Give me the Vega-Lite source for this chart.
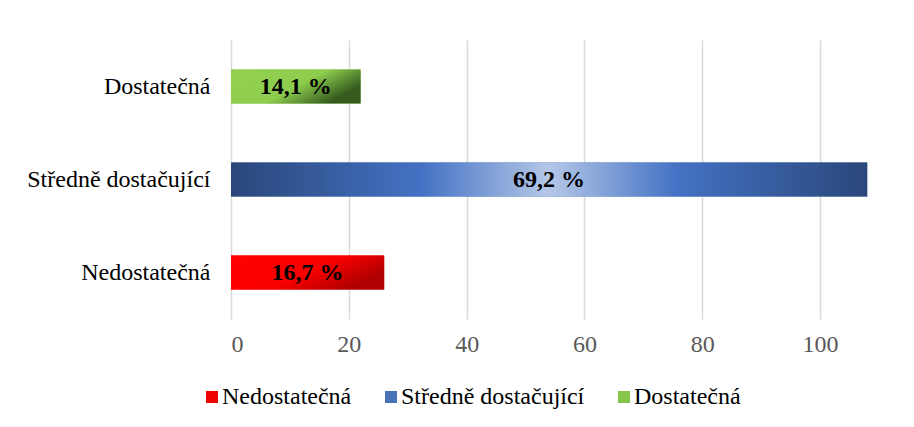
{
  "$schema": "https://vega.github.io/schema/vega-lite/v6.json",
  "width": 648,
  "height": 279,
  "autosize": {"type": "none"},
  "padding": {"left": 231, "top": 40, "right": 35, "bottom": 108},
  "background": "white",
  "config": {
    "font": "Liberation Serif",
    "view": {"stroke": null}
  },
  "data": {
    "values": [
      {"category": "Dostatečná", "value": 22, "label": "14,1 %"},
      {"category": "Středně dostačující", "value": 108, "label": "69,2 %"},
      {"category": "Nedostatečná", "value": 26, "label": "16,7 %"}
    ]
  },
  "encoding": {
    "y": {
      "field": "category",
      "type": "nominal",
      "sort": ["Dostatečná", "Středně dostačující", "Nedostatečná"],
      "scale": {"paddingInner": 0.634, "paddingOuter": 0.317},
      "axis": {
        "title": null,
        "domain": false,
        "ticks": false,
        "labelFont": "Liberation Serif",
        "labelFontSize": 24,
        "labelColor": "#000000",
        "labelPadding": 21,
        "labelLimit": 0
      }
    },
    "x": {
      "field": "value",
      "type": "quantitative",
      "scale": {"domain": [0, 110], "nice": false},
      "axis": {
        "title": null,
        "values": [0, 20, 40, 60, 80, 100],
        "domain": false,
        "ticks": false,
        "grid": true,
        "gridColor": "#d9d9d9",
        "gridWidth": 1.5,
        "labelFont": "Liberation Serif",
        "labelFontSize": 24,
        "labelColor": "#595959",
        "labelPadding": 13
      }
    }
  },
  "layer": [
    {
      "mark": {"type": "bar"},
      "encoding": {
        "color": {
          "field": "category",
          "type": "nominal",
          "scale": {
            "domain": ["Nedostatečná", "Středně dostačující", "Dostatečná"],
            "range": ["#f00000", "#4a72b8", "#86c44a"]
          },
          "legend": {
            "title": null,
            "orient": "none",
            "direction": "horizontal",
            "legendX": -31,
            "legendY": 345,
            "symbolType": "square",
            "symbolSize": 144,
            "symbolStrokeWidth": 0,
            "symbolOpacity": 1,
            "labelFont": "Liberation Serif",
            "labelFontSize": 24,
            "labelColor": "#000000",
            "labelOffset": -2,
            "labelLimit": 0,
            "columnPadding": 27
          }
        }
      }
    },
    {
      "transform": [{"filter": "datum.category === 'Nedostatečná'"}],
      "mark": {"type": "bar", "color": {"gradient": "linear", "x1": 0, "y1": 0, "x2": 1, "y2": 0.5,
        "stops": [{"offset": 0, "color": "#ff0000"}, {"offset": 0.6, "color": "#f80000"}, {"offset": 1, "color": "#b00000"}]}},
      "encoding": {}
    },
    {
      "transform": [{"filter": "datum.category === 'Středně dostačující'"}],
      "mark": {"type": "bar", "color": {"gradient": "linear", "x1": 0, "y1": 0, "x2": 1, "y2": 0,
        "stops": [{"offset": 0, "color": "#2a477a"}, {"offset": 0.3, "color": "#4472c4"}, {"offset": 0.5, "color": "#b4c7e7"}, {"offset": 0.7, "color": "#4472c4"}, {"offset": 1, "color": "#2a477a"}]}},
      "encoding": {}
    },
    {
      "transform": [{"filter": "datum.category === 'Dostatečná'"}],
      "mark": {"type": "bar", "color": {"gradient": "linear", "x1": 0, "y1": 0, "x2": 1, "y2": 0.5,
        "stops": [{"offset": 0, "color": "#92d050"}, {"offset": 0.6, "color": "#8ecd4e"}, {"offset": 1, "color": "#345a1e"}]}},
      "encoding": {}
    },
    {
      "transform": [{"calculate": "datum.value / 2", "as": "mid"}],
      "mark": {"type": "text", "fontSize": 24, "fontWeight": "bold", "color": "#000000", "align": "center", "baseline": "middle", "font": "Liberation Serif"},
      "encoding": {
        "x": {"field": "mid", "type": "quantitative"},
        "text": {"field": "label"}
      }
    }
  ]
}
